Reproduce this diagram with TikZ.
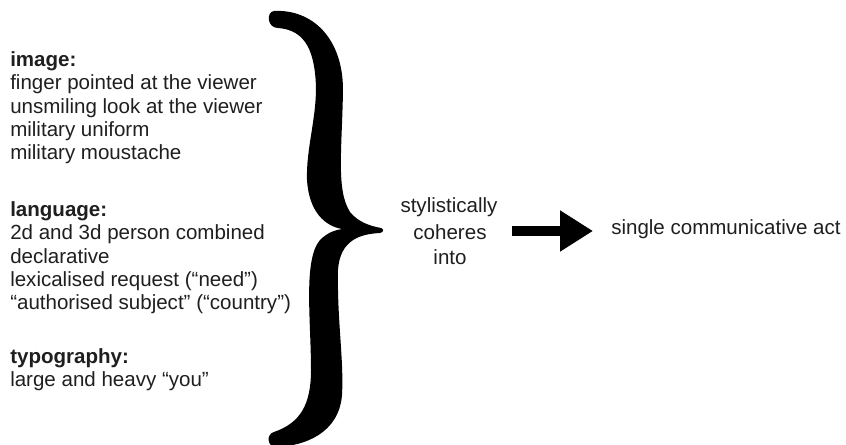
\documentclass[tikz,border=0pt]{standalone}
\usepackage{fontspec}
\setmainfont{Liberation Sans}
\usetikzlibrary{arrows.meta}
\begin{document}
\begin{tikzpicture}[x=0.75pt,y=-0.75pt,
  txt/.style={anchor=base west, inner sep=0pt, text=black!88, font=\fontsize{15.4pt}{17.5pt}\selectfont},
  hd/.style={txt, font=\fontsize{15.4pt}{17.5pt}\selectfont\bfseries},
  mid/.style={txt, anchor=base},
  bigarrow/.style={line width=7.9pt, -{Triangle[length=24.75pt,width=29.25pt]}}]
\useasboundingbox (0,0) rectangle (846,445);
\fill[white] (0,0) rectangle (846,445);
% image block
\node[hd]  (img) at (10,66.7)  {image:};
\node[txt] (i1)  at (10,90)    {finger pointed at the viewer};
\node[txt] (i2)  at (10,113.3) {unsmiling look at the viewer};
\node[txt] (i3)  at (10,136.7) {military uniform};
\node[txt] (i4)  at (10,160)   {military moustache};
% language block
\node[hd]  (lang) at (10,216.7) {language:};
\node[txt] (l1)  at (10,240)    {2d and 3d person combined};
\node[txt] (l2)  at (10,263.3)  {declarative};
\node[txt] (l3)  at (10,286.7)  {lexicalised request (“need”)};
\node[txt] (l4)  at (10,310)    {“authorised subject” (“country”)};
% typography block
\node[hd]  (typo) at (10,363.3) {typography:};
\node[txt] (t1)  at (10,386.7)  {large and heavy “you”};
% brace
\fill[black] (274,11) .. controls (312,9) and (343,38) .. (343,90)
  .. controls (342,150) and (336,190) .. (350,212)
  .. controls (358,222) and (370,226) .. (381,228)
  .. controls (384,229) and (384,232) .. (380,233)
  .. controls (360,234) and (340,240) .. (338,270)
  .. controls (337,320) and (344,360) .. (342,395)
  .. controls (339,433) and (305,446) .. (276,447)
  .. controls (267,447) and (266,434) .. (274,432)
  .. controls (300,423) and (311,405) .. (311,370)
  .. controls (311,320) and (303,260) .. (320,240)
  .. controls (328,232) and (336,230) .. (342,229)
  .. controls (325,226) and (309,212) .. (307,180)
  .. controls (306,150) and (316,120) .. (316,88)
  .. controls (315,52) and (306,30) .. (278,28)
  .. controls (267,28) and (266,12) .. (274,11) -- cycle;
% middle
\node[mid] (m1) at (449,213) {stylistically};
\node[mid] (m2) at (450,240) {coheres};
\node[mid] (m3) at (450,265) {into};
% arrow
\coordinate (as) at (512,231);
\coordinate (ae) at (593,231);
\draw[bigarrow] (as) -- (ae);
% result
\node[txt] (act) at (611,235) {single communicative act};
\end{tikzpicture}
\end{document}
